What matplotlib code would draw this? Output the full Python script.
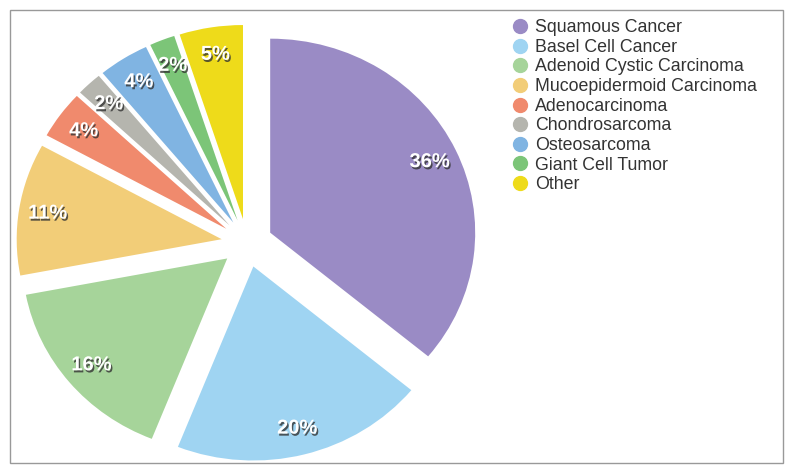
import matplotlib
matplotlib.use('Agg')
import matplotlib.pyplot as plt
import matplotlib.patheffects as pe
from matplotlib.lines import Line2D
from matplotlib.patches import Rectangle

categories = ['Squamous Cancer', 'Basel Cell Cancer', 'Adenoid Cystic Carcinoma',
              'Mucoepidermoid Carcinoma', 'Adenocarcinoma', 'Chondrosarcoma',
              'Osteosarcoma', 'Giant Cell Tumor', 'Other']
shares = [36, 20, 16, 11, 4, 2, 4, 2, 5]
colors = ['#9a8bc5', '#9fd4f2', '#a6d49a', '#f2cd78', '#f08a6d',
          '#b5b5ae', '#80b4e2', '#7cc578', '#eedb1a']

plt.rcParams['font.family'] = ['Liberation Sans', 'DejaVu Sans']

W, H = 793, 473
# pie centre and radii in pixels (source image is slightly stretched sideways)
cx, cy, rx, ry = 247, 243, 205, 194

fig = plt.figure(figsize=(W / 100, H / 100), dpi=100)
ax = fig.add_axes([0, 0, 1, 1])

wedges, texts, autotexts = ax.pie(
    shares, colors=colors, startangle=90, counterclock=False,
    radius=1, explode=[0.125] * len(shares),
    autopct='%d%%', pctdistance=0.86,
    wedgeprops=dict(linewidth=0),
    textprops=dict(color='white', fontsize=14.5, fontweight='bold'))

for t in autotexts:
    t.set_path_effects([pe.withSimplePatchShadow(offset=(1, -1.5), shadow_rgbFace='#333333', alpha=0.8)])

ax.set_aspect('auto')
ax.set_xlim(-cx / rx, (W - cx) / rx)
ax.set_ylim(-(H - cy) / ry, cy / ry)
ax.axis('off')

handles = [Line2D([], [], marker='o', linestyle='', markersize=10,
                  markerfacecolor=c, markeredgecolor=c) for c in colors]
fig.legend(handles, categories, loc='upper left', bbox_to_anchor=(500 / W, 1 - 12 / H),
           frameon=False, fontsize=12.75, labelspacing=0.15, handletextpad=0.1,
           handlelength=1.5, labelcolor='#333333', borderaxespad=0)

fig.add_artist(Rectangle((10 / W, 1 - 463 / H), 773 / W, 453 / H,
                         transform=fig.transFigure, fill=False,
                         edgecolor='#999999', linewidth=1))

fig.savefig('out.png', dpi=100)
